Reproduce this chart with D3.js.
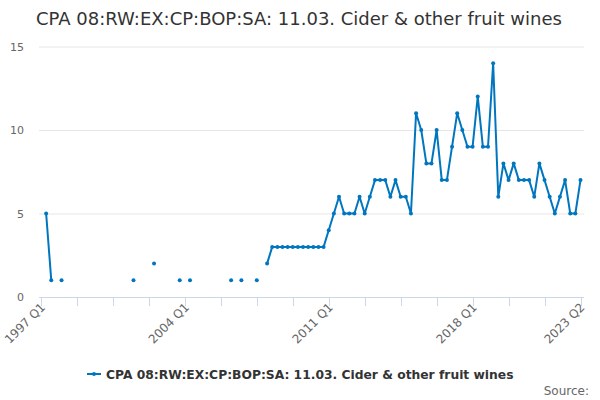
<!DOCTYPE html>
<html><head><meta charset="utf-8">
<script src="https://cdn.jsdelivr.net/npm/d3@7"></script>
<style>body{margin:0;background:#fff}svg{display:block}text{font-family:"DejaVu Sans",sans-serif}</style>
</head><body><svg id="c" width="600" height="400"></svg>
<script>
const title = "CPA 08:RW:EX:CP:BOP:SA: 11.03. Cider & other fruit wines";
const seriesName = "CPA 08:RW:EX:CP:BOP:SA: 11.03. Cider & other fruit wines";
const startYear = 1997;
const quarterCount = 106;
const tickLabels = ["1997 Q1","2004 Q1","2011 Q1","2018 Q1","2023 Q2"];
const tickLabelIndex = [0,28,56,84,105];
const yTicks = [0,5,10,15];
const values = [
 null,5,1,null,1,null,null,null,null,null,null,null,null,null,null,null,null,null,1,null,
 null,null,2,null,null,null,null,1,null,1,null,null,null,null,null,null,null,1,null,1,
 null,null,1,null,2,3,3,3,3,3,3,3,3,3,3,3,4,5,6,5,
 5,5,6,5,6,7,7,7,6,7,6,6,5,11,10,8,8,10,7,7,
 9,11,10,9,9,12,9,9,14,6,8,7,8,7,7,7,6,8,7,6,
 5,6,7,5,5,7
];
const labels = d3.range(quarterCount).map(i => (startYear + Math.floor(i/4)) + " Q" + (i%4+1));

const svg = d3.select("#c");
const x = d3.scaleLinear().domain([0, quarterCount-1]).range([41, 580.5]);
const y = d3.scaleLinear().domain([0, 15]).range([297, 46.5]);
const color = "#0076c0";

svg.append("text").attr("x",299).attr("y",25).attr("text-anchor","middle")
  .attr("font-size",18).attr("fill","#333").text(title);

// gridlines
svg.append("g").selectAll("line").data(yTicks.filter(d=>d>0)).join("line")
  .attr("x1",39).attr("x2",584).attr("y1",d=>y(d)+0.5).attr("y2",d=>y(d)+0.5)
  .attr("stroke","#e6e6e6");
svg.append("g").selectAll("text").data(yTicks).join("text")
  .attr("x",24).attr("y",d=>y(d)+4).attr("text-anchor","end")
  .attr("font-size",11).attr("fill","#666").text(d=>d);

// x axis
svg.append("line").attr("x1",39).attr("x2",584).attr("y1",297.5).attr("y2",297.5).attr("stroke","#ccd6eb");
const tickIdx = d3.range(0, quarterCount, 7);
svg.append("g").selectAll("line").data(tickIdx).join("line")
  .attr("x1",d=>Math.round(x(d))+0.5).attr("x2",d=>Math.round(x(d))+0.5)
  .attr("y1",297).attr("y2",306).attr("stroke","#ccd6eb");
svg.append("g").selectAll("text").data(tickLabelIndex).join("text")
  .attr("transform",(d)=>`translate(${x(d)+5},${308}) rotate(-45)`)
  .attr("text-anchor","end").attr("font-size",12).attr("fill","#666")
  .text((d,i)=>tickLabels[i]);

// line
const pts = values.map((v,i)=>({i,v}));
const line = d3.line().defined(d=>d.v!==null).x(d=>x(d.i)).y(d=>y(d.v));
svg.append("path").datum(pts).attr("d",line).attr("fill","none")
  .attr("stroke",color).attr("stroke-width",2).attr("stroke-linejoin","round");
svg.append("g").selectAll("circle").data(pts.filter(d=>d.v!==null)).join("circle")
  .attr("cx",d=>x(d.i)).attr("cy",d=>y(d.v)).attr("r",2).attr("fill",color);

// legend
const lg = svg.append("g").attr("transform","translate(87,374)");
lg.append("line").attr("x1",0).attr("x2",14).attr("y1",0).attr("y2",0).attr("stroke",color).attr("stroke-width",2);
lg.append("circle").attr("cx",7).attr("cy",0).attr("r",2).attr("fill",color);
lg.append("text").attr("x",19).attr("y",4.5).attr("font-size",12.3).attr("font-weight","bold")
  .attr("fill","#333").text(seriesName);

svg.append("text").attr("x",589).attr("y",395).attr("text-anchor","end")
  .attr("font-size",12).attr("fill","#666").text("Source:");
</script></body></html>
